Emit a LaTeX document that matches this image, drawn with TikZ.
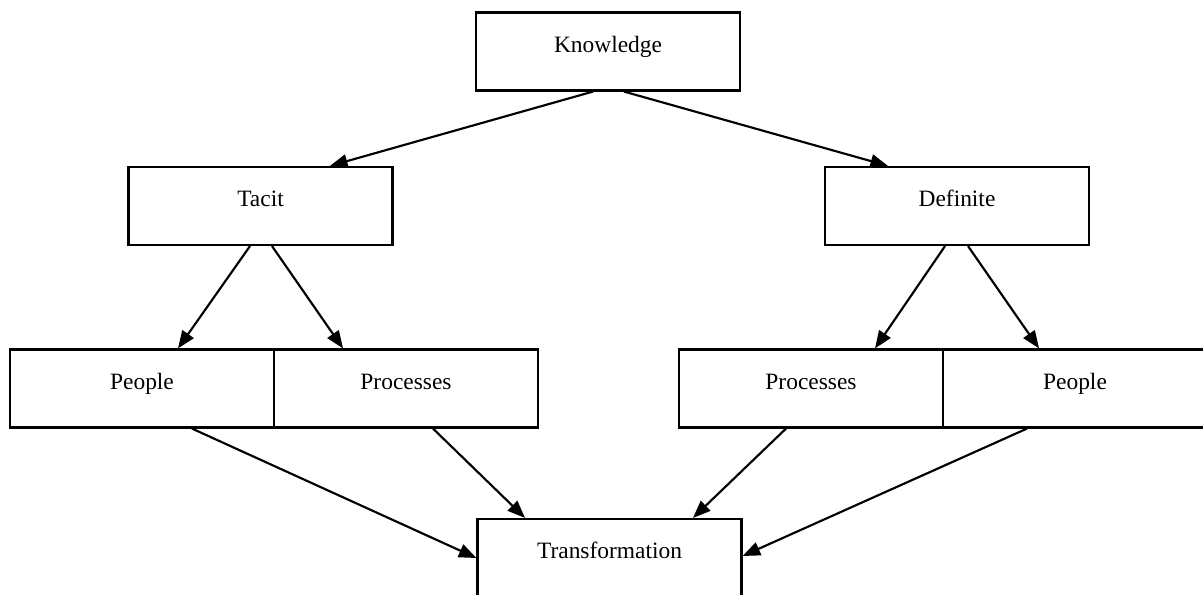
\documentclass[tikz,border=0pt]{standalone}
\usepackage{fontspec}
\setmainfont{Liberation Serif}
\usepackage{tikz}
\usetikzlibrary{arrows.meta}

\begin{document}
\begin{tikzpicture}[
    kbox/.style={draw, line width=1.1pt, minimum width=4.752cm, minimum height=1.404cm,
      inner sep=0pt, text height=8pt, text depth=7pt, font=\fontsize{12}{14}\selectfont},
    arr/.style={line width=1.1pt, -{Triangle[length=9pt,width=7pt]}}]
  \useasboundingbox (0,0) rectangle (21.654,10.692);
  \node[kbox] (knowledge) at (10.944,9.765) {Knowledge};
  \node[kbox] (tacit) at (4.689,6.984) {Tacit};
  \node[kbox] (definite) at (17.226,6.984) {Definite};
  \node[kbox] (peopleL) at (2.556,3.699) {People};
  \node[kbox] (procL) at (7.308,3.699) {Processes};
  \node[kbox] (procR) at (14.598,3.699) {Processes};
  \node[kbox] (peopleR) at (19.35,3.699) {People};
  \node[kbox] (transf) at (10.971,0.648) {Transformation};
  \draw[arr] ([xshift=-0.27cm]knowledge.south) -- ([xshift=1.251cm]tacit.north);
  \draw[arr] ([xshift=0.288cm]knowledge.south) -- ([xshift=-1.242cm]definite.north);
  \draw[arr] ([xshift=-0.189cm]tacit.south) -- ([xshift=0.648cm]peopleL.north);
  \draw[arr] ([xshift=0.207cm]tacit.south) -- ([xshift=-1.134cm]procL.north);
  \draw[arr] ([xshift=-0.216cm]definite.south) -- ([xshift=1.152cm]procR.north);
  \draw[arr] ([xshift=0.198cm]definite.south) -- ([xshift=-0.648cm]peopleR.north);
  \draw[arr] ([xshift=0.9cm]peopleL.south) -- (transf.west);
  \draw[arr] ([xshift=0.486cm]procL.south) -- ([xshift=-1.521cm]transf.north);
  \draw[arr] ([xshift=-0.45cm]procR.south) -- ([xshift=1.503cm]transf.north);
  \draw[arr] ([xshift=-0.864cm]peopleR.south) -- ([yshift=0.036cm]transf.east);
\end{tikzpicture}
\end{document}
